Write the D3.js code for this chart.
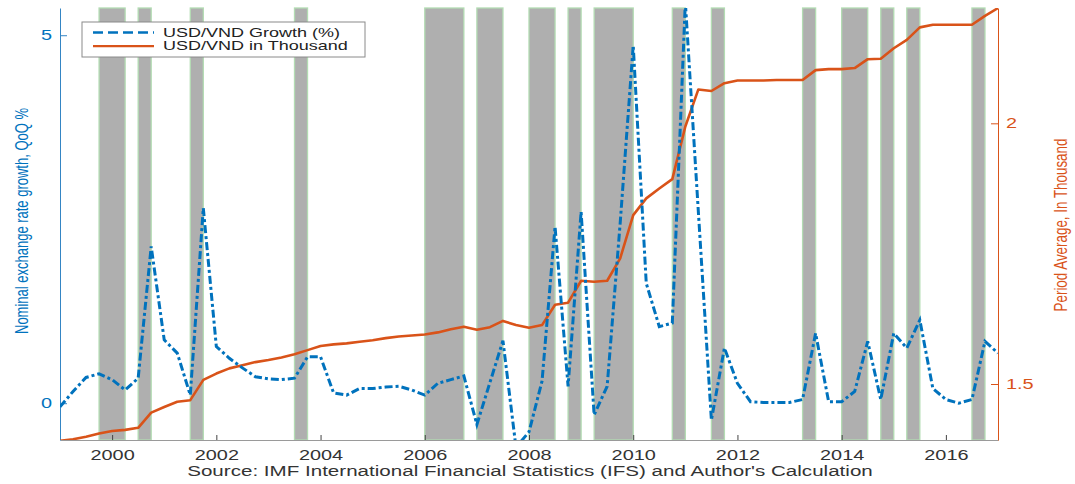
<!DOCTYPE html>
<html>
<head>
<meta charset="utf-8">
<script src="https://cdn.jsdelivr.net/npm/d3@7"></script>
<style>
    body { margin: 0; background: #fff; }
    svg text { font-family: "Liberation Sans", Arial, Helvetica, sans-serif; }
</style>
</head>
<body>
<div id="chart"></div>
<script>

// quarterly observations, 1999Q1 .. 2017Q1
const quarters = d3.range(73).map(i => 1999 + i / 4);

// USD/VND growth, QoQ %
const growth = [
    -0.05, 0.16, 0.35, 0.40, 0.32, 0.18, 0.34, 2.13, 0.86, 0.68,
    0.11, 2.65, 0.77, 0.61, 0.48, 0.36, 0.33, 0.32, 0.34, 0.63,
    0.63, 0.14, 0.11, 0.20, 0.20, 0.22, 0.23, 0.18, 0.11, 0.27,
    0.32, 0.37, -0.29, 0.28, 0.85, -0.60, -0.39, 0.30, 2.40, 0.23,
    2.60, -0.16, 0.23, 2.45, 4.86, 1.63, 1.04, 1.09, 5.45, 2.60,
    -0.23, 0.75, 0.27, 0.02, 0.01, 0.01, 0.01, 0.05, 0.95, 0.02,
    0.02, 0.16, 0.84, 0.05, 0.95, 0.75, 1.13, 0.20, 0.05, 0.00,
    0.05, 0.84, 0.68
];

// USD/VND period average
const usdvnd = [
    1.391, 1.394, 1.399, 1.405, 1.410, 1.412, 1.416, 1.445, 1.456, 1.466,
    1.469, 1.508, 1.520, 1.530, 1.536, 1.542, 1.546, 1.551, 1.557, 1.565,
    1.573, 1.576, 1.578, 1.581, 1.584, 1.588, 1.591, 1.593, 1.595, 1.599,
    1.605, 1.610, 1.604, 1.609, 1.621, 1.613, 1.608, 1.613, 1.652, 1.656,
    1.698, 1.696, 1.698, 1.741, 1.824, 1.856, 1.875, 1.893, 1.994, 2.065,
    2.062, 2.077, 2.082, 2.082, 2.082, 2.083, 2.083, 2.083, 2.102, 2.104,
    2.104, 2.106, 2.123, 2.124, 2.144, 2.160, 2.184, 2.189, 2.189, 2.189,
    2.189, 2.206, 2.221
];

// shaded periods
const shadeStart = [1999.75, 2000.5, 2001.5, 2003.5, 2006.0, 2007.0, 2008.0, 2008.75,
    2009.25, 2010.75, 2011.5, 2013.25, 2014.0, 2014.75, 2015.25, 2016.5];
const shadeEnd = [2000.25, 2000.75, 2001.75, 2003.75, 2006.75, 2007.5, 2008.5, 2009.0,
    2010.0, 2011.0, 2011.75, 2013.5, 2014.5, 2015.0, 2015.5, 2016.75];

const xTicks = [2000, 2002, 2004, 2006, 2008, 2010, 2012, 2014, 2016];
const leftTicks = [0, 5];
const rightTicks = [1.5, 2];

const seriesNames = ["USD/VND Growth (%)", "USD/VND in Thousand"];

const BLUE = "#0072BD";
const ORANGE = "#D95319";
const SX = 1.42; // the source figure is stretched sideways

class DualAxisVis {

    constructor(parentElement) {
        this.parentElement = parentElement;
        this.initVis();
    }

    initVis() {
        let vis = this;

        vis.margin = {top: 8, right: 77, bottom: 44, left: 60};
        vis.width = 1075 - vis.margin.left - vis.margin.right;
        vis.height = 484 - vis.margin.top - vis.margin.bottom;

        vis.svgRoot = d3.select("#" + vis.parentElement).append("svg")
            .attr("width", 1075)
            .attr("height", 484);

        vis.svg = vis.svgRoot.append("g")
            .attr("transform", "translate(" + vis.margin.left + "," + vis.margin.top + ")");

        vis.x = d3.scaleLinear().domain([1999, 2017]).range([0, vis.width]);
        vis.yL = d3.scaleLinear().domain([-0.5, 5.37]).range([vis.height, 0]);
        vis.yR = d3.scaleLinear().domain([1.3926, 2.2212]).range([vis.height, 0]);

        vis.svg.append("clipPath").attr("id", "plotClip")
            .append("rect").attr("width", vis.width).attr("height", vis.height);

        // shaded bands
        vis.svg.append("g")
            .selectAll("rect")
            .data(shadeStart.map((s, i) => [s, shadeEnd[i]]))
            .enter()
            .append("rect")
            .attr("x", d => vis.x(d[0]))
            .attr("width", d => vis.x(d[1]) - vis.x(d[0]))
            .attr("y", 0)
            .attr("height", vis.height)
            .style("fill", "#afafaf")
            .style("stroke", "#b3dcb3")
            .style("stroke-width", 1.3);

        // axes
        vis.xAxis = d3.axisBottom(vis.x).tickValues(xTicks).tickFormat(d3.format("d"))
            .tickSizeInner(-5).tickSizeOuter(0).tickPadding(10);
        vis.xAxisGroup = vis.svg.append("g")
            .attr("transform", "translate(0," + vis.height + ")")
            .call(vis.xAxis);
        vis.xAxisGroup.select(".domain").attr("stroke", "#9a9a9a");
        vis.xAxisGroup.selectAll(".tick line").attr("stroke", "#444");
        vis.xAxisGroup.selectAll("text")
            .attr("fill", "#333")
            .style("font-size", "14px")
            .attr("transform", "scale(" + SX + ",1)");

        vis.yAxisL = d3.axisLeft(vis.yL).tickValues(leftTicks).tickFormat(d3.format("d"))
            .tickSizeInner(-7).tickSizeOuter(0).tickPadding(8);
        vis.yAxisLGroup = vis.svg.append("g").call(vis.yAxisL);
        vis.yAxisLGroup.selectAll("path, line").attr("stroke", "#3485c4");
        vis.yAxisLGroup.selectAll("text")
            .attr("fill", BLUE)
            .style("font-size", "14px")
            .attr("x", -8 / SX)
            .attr("transform", "scale(" + SX + ",1)");

        vis.yAxisR = d3.axisRight(vis.yR).tickValues(rightTicks).tickFormat(d => d)
            .tickSizeInner(-7).tickSizeOuter(0).tickPadding(8);
        vis.yAxisRGroup = vis.svg.append("g")
            .attr("transform", "translate(" + vis.width + ",0)")
            .call(vis.yAxisR);
        vis.yAxisRGroup.selectAll("path, line").attr("stroke", ORANGE);
        vis.yAxisRGroup.selectAll("text")
            .attr("fill", ORANGE)
            .style("font-size", "14px")
            .attr("x", 8 / SX)
            .attr("transform", "scale(" + SX + ",1)");

        // lines
        vis.lineL = d3.line().x((d, i) => vis.x(quarters[i])).y(d => vis.yL(d));
        vis.lineR = d3.line().x((d, i) => vis.x(quarters[i])).y(d => vis.yR(d));

        let lines = vis.svg.append("g").attr("clip-path", "url(#plotClip)");

        lines.append("path")
            .datum(usdvnd)
            .attr("d", vis.lineR)
            .style("fill", "none")
            .style("stroke", ORANGE)
            .style("stroke-width", 2.6)
            .style("stroke-linejoin", "round");

        lines.append("path")
            .datum(growth)
            .attr("d", vis.lineL)
            .style("fill", "none")
            .style("stroke", BLUE)
            .style("stroke-width", 3)
            .style("stroke-dasharray", "8,3,3,3");

        // axis titles
        vis.svgRoot.append("text")
            .attr("transform", "translate(22,221) scale(" + SX + ",1) rotate(-90)")
            .attr("text-anchor", "middle")
            .attr("dy", "0.35em")
            .style("font-size", "13px")
            .attr("fill", BLUE)
            .text("Nominal exchange rate growth, QoQ %");

        vis.svgRoot.append("text")
            .attr("transform", "translate(1060,225) scale(" + SX + ",1) rotate(-90)")
            .attr("text-anchor", "middle")
            .attr("dy", "0.35em")
            .style("font-size", "13.4px")
            .attr("fill", ORANGE)
            .text("Period Average, In Thousand");

        vis.svgRoot.append("text")
            .attr("transform", "translate(530,476) scale(" + SX + ",1)")
            .attr("text-anchor", "middle")
            .style("font-size", "14.5px")
            .attr("fill", "#333")
            .text("Source: IMF International Financial Statistics (IFS) and Author's Calculation");

        // legend
        vis.legend = vis.svg.append("g").attr("transform", "translate(22,14)");
        vis.legend.append("rect")
            .attr("width", 283)
            .attr("height", 35)
            .style("fill", "#fff")
            .style("stroke", "#8a8a8a")
            .style("stroke-width", 1);

        let styles = [
            {color: BLUE, dash: "10,5"},
            {color: ORANGE, dash: null}
        ];
        seriesNames.forEach((name, i) => {
            let y = 10.5 + i * 13.6;
            vis.legend.append("line")
                .attr("x1", 11).attr("x2", 72)
                .attr("y1", y).attr("y2", y)
                .style("stroke", styles[i].color)
                .style("stroke-width", 2.4)
                .style("stroke-dasharray", styles[i].dash);
            vis.legend.append("text")
                .attr("transform", "translate(81," + (y + 4.3) + ") scale(" + (SX * 1.04) + ",1)")
                .style("font-size", "12.2px")
                .attr("fill", "#222")
                .text(name);
        });
    }
}

new DualAxisVis("chart");
</script>
</body>
</html>
